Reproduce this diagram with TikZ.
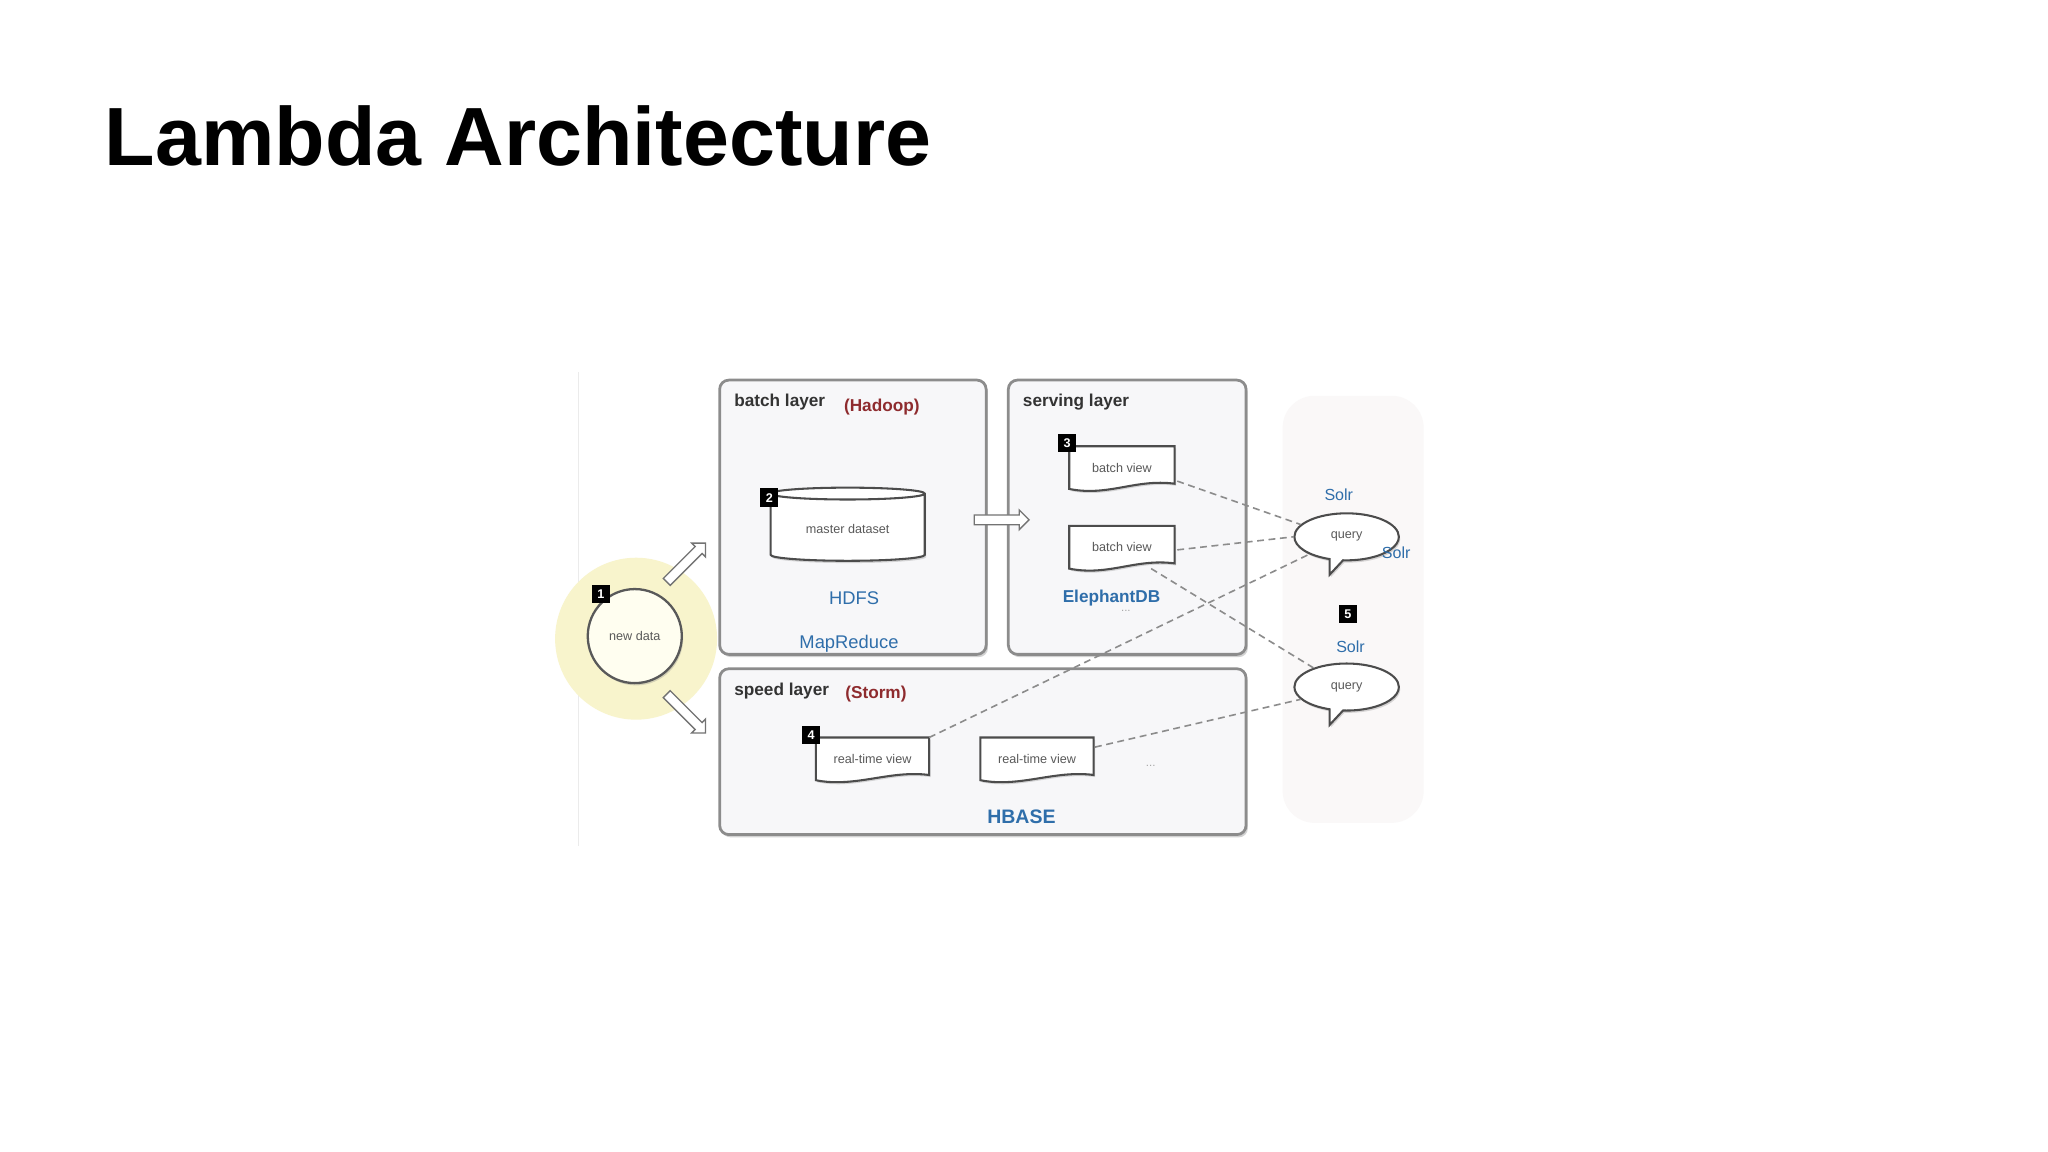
\documentclass[tikz,border=0pt]{standalone}
\usepackage{fontspec}
\setmainfont{Liberation Sans}
\usetikzlibrary{shapes.geometric,shapes.arrows,shapes.callouts,shadows,calc}
\definecolor{lblue}{HTML}{2F6EAA}
\definecolor{lred}{HTML}{8E2B2E}
\definecolor{bord}{HTML}{8C8C8C}
\definecolor{boxfill}{HTML}{F7F7F9}
\definecolor{glow}{HTML}{F8F4CC}
\definecolor{panel}{HTML}{FAF8F8}
\tikzset{
  layer/.style={draw=bord,line width=1.2pt,fill=boxfill,rounded corners=4pt,
    drop shadow={opacity=0.35,shadow xshift=0.8pt,shadow yshift=-1.2pt}},
  badge/.style={fill=black,text=white,font=\bfseries\fontsize{5.5}{6}\selectfont,
    minimum size={14*0.02cm},inner sep=0pt},
  small/.style={text=black!65,font=\fontsize{5.5}{6}\selectfont},
  ltitle/.style={font=\fontsize{7.5}{9}\selectfont\bfseries,text=black!80,anchor=west},
  tech/.style={font=\fontsize{8}{9}\selectfont,text=lblue},
  techb/.style={font=\fontsize{7.5}{9}\selectfont\bfseries,text=lblue},
  redl/.style={font=\fontsize{7.5}{9}\selectfont\bfseries,text=lred,anchor=west},
  docbox/.style={minimum width={80*0.02cm},minimum height={32*0.02cm},inner sep=0pt},
  docline/.style={draw=black!70,line width=0.9pt,fill=white,
    drop shadow={opacity=0.3,shadow xshift=0.6pt,shadow yshift=-0.9pt}},
  conn/.style={densely dashed,draw=black!45,line width=0.7pt},
  bubble/.style={ellipse callout,draw=black!70,line width=0.9pt,fill=white,
    minimum width={80*0.02cm},minimum height={36*0.02cm},small,
    drop shadow={opacity=0.3,shadow xshift=0.6pt,shadow yshift=-1pt}},
  fatarrow/.style={single arrow,draw=black!55,fill=white,line width=0.6pt,
    minimum height={42*0.02cm},minimum width={15*0.02cm},single arrow head extend=1.5pt,inner sep=1.2pt}
}
\newcommand\docshape[1]{%
  \path[docline] (#1.north west) -- (#1.north east) -- ($(#1.south east)+(0,-4)$)
    .. controls ($(#1.south east)+(-30,-8)$) and ($(#1.south west)+(30,6)$) .. ($(#1.south west)+(0,0)$) -- cycle;}
\begin{document}
\begin{tikzpicture}[x=0.02cm,y=-0.02cm]
\useasboundingbox (0,0) rectangle (1568,882);
\fill[white] (0,0) rectangle (1568,882);
% title
\node[anchor=base west,inner sep=0pt,font=\fontsize{36}{38}\selectfont\bfseries] (title) at (80,127) {Lambda Architecture};
% faint line and right panel
\draw[black!8,line width=0.5pt] (443,285) -- (443,648);
\fill[rounded corners=14pt,fill=panel] (982,303) rectangle (1090,630);
% layers
\path[layer] (551,291) rectangle (755,501);
\path[layer] (772,291) rectangle (954,501);
\path[layer] (551,512) rectangle (954,639);
\node[ltitle] (bl) at (556,308) {batch layer};
\node[redl] (hd) at (640,312) {(Hadoop)};
\node[ltitle] (sl) at (777,308) {serving layer};
\node[ltitle] (spl) at (556,529) {speed layer};
\node[redl] (st) at (641,531) {(Storm)};
% new data
\fill[glow] (487,489) circle (62);
\node[circle,draw=black!65,line width=1pt,fill=yellow!6,minimum size={72*0.02cm},small,
  drop shadow={opacity=0.3,shadow xshift=0.6pt,shadow yshift=-1pt}] (nd) at (486,487) {new data};
\node[badge] (b1) at (460,455) {1};
\node[fatarrow,rotate=45] (a1) at (524,432) {};
\node[fatarrow,rotate=-45] (a2) at (524,545) {};
\node[fatarrow] (a3) at (765,398) {};
% master dataset
\node[cylinder,shape border rotate=90,aspect=0.12,draw=black!70,line width=0.9pt,fill=white,
  minimum width={118*0.02cm},minimum height={56*0.02cm},small,
  drop shadow={opacity=0.3,shadow xshift=0.6pt,shadow yshift=-1pt}] (md) at (649,405) {master dataset};
\node[badge] (b2) at (589,381) {2};
\node[tech] (hdfs) at (654,458) {HDFS};
\node[tech] (mr) at (650,493) {MapReduce};
% serving layer
\node[docbox] (bv1) at (859,358) {};
\docshape{bv1}
\node[small] at (bv1) {batch view};
\node[docbox] (bv2) at (859,419) {};
\docshape{bv2}
\node[small] at (bv2) {batch view};
\node[badge] (b3) at (817,339) {3};
\node[techb] (edb) at (851,458) {ElephantDB};
\node[text=black!35,font=\tiny] (dots1) at (862,468) {...};
% speed layer
\node[docbox,minimum width={86*0.02cm}] (rt1) at (668,581) {};
\docshape{rt1}
\node[small] at (rt1) {real-time view};
\node[docbox,minimum width={86*0.02cm}] (rt2) at (794,581) {};
\docshape{rt2}
\node[small] at (rt2) {real-time view};
\node[badge] (b4) at (621,563) {4};
\node[text=black!35,font=\tiny] (dots2) at (881,586) {...};
\node[techb,font=\fontsize{8.5}{10}\selectfont\bfseries] (hb) at (782,625) {HBASE};
% queries
\node[bubble,callout absolute pointer={(1018,440)}] (q1) at (1031,411) {query};
\node[bubble,callout absolute pointer={(1018,555)}] (q2) at (1031,526) {query};
\node[tech,font=\fontsize{7}{8}\selectfont] (s1) at (1025,379) {Solr};
\node[tech,font=\fontsize{7}{8}\selectfont] (s2) at (1069,423) {Solr};
\node[tech,font=\fontsize{7}{8}\selectfont] (s3) at (1034,495) {Solr};
\node[badge] (b5) at (1032,470) {5};
% connectors
\draw[conn] ($(bv1.south east)+(2,-6)$) -- (q1.165);
\draw[conn] ($(bv2.east)+(2,2)$) -- (q1.west);
\draw[conn] ($(bv2.south east)+(-18,0)$) -- (q2.150);
\draw[conn] (rt1.north east) -- (q1.205);
\draw[conn] ($(rt2.east)+(1,-9)$) -- (q2.195);
\end{tikzpicture}
\end{document}
